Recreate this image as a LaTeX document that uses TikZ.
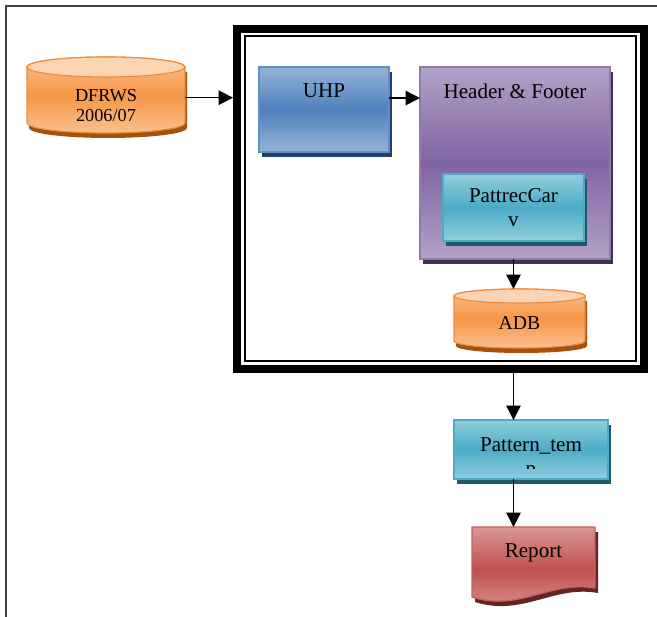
\documentclass[tikz,border=0pt]{standalone}
\usepackage{fontspec}
\setmainfont{Liberation Serif}
\usetikzlibrary{positioning,arrows.meta,shadows}

\definecolor{orgmid}{HTML}{F79646}
\definecolor{orglight}{HTML}{FAC08F}
\definecolor{orgtop}{HTML}{FBD4B4}
\definecolor{orgline}{HTML}{EF8A3A}
\definecolor{orgdark}{HTML}{A5520F}
\definecolor{bluemid}{HTML}{4F81BD}
\definecolor{bluelight}{HTML}{95B3D7}
\definecolor{blueline}{HTML}{5E8FCB}
\definecolor{bluedark}{HTML}{243F60}
\definecolor{purpmid}{HTML}{8064A2}
\definecolor{purplight}{HTML}{B2A2C7}
\definecolor{purpline}{HTML}{9279B4}
\definecolor{purpdark}{HTML}{3F3151}
\definecolor{aquamid}{HTML}{4BACC6}
\definecolor{aqualight}{HTML}{93CDDD}
\definecolor{aqualine}{HTML}{4BACC6}
\definecolor{aquadark}{HTML}{215868}
\definecolor{redmid}{HTML}{C0504D}
\definecolor{redlight}{HTML}{D99694}
\definecolor{redline}{HTML}{C9605D}
\definecolor{reddark}{HTML}{632523}

\begin{document}
\begin{tikzpicture}[
  font=\fontsize{15}{17.5}\selectfont, >={Triangle[length=3.6mm, width=3.6mm]},
  flow/.style={->, line width=1.1pt},
  box/.style={draw, line width=1pt, inner sep=0pt, outer sep=0pt, align=center},
  boxshadow/.style={drop shadow={fill=#1, opacity=1, shadow xshift=0.075cm, shadow yshift=-0.125cm}},
  uhpbox/.style={box, draw=blueline, top color=bluelight, bottom color=bluelight, middle color=bluemid, boxshadow=bluedark},
  hfbox/.style={box, draw=purpline, top color=purplight, bottom color=purplight, middle color=purpmid, boxshadow=purpdark},
  aquabox/.style={box, draw=aqualine, top color=aqualight, bottom color=aqualight, middle color=aquamid, boxshadow=aquadark},
  ttl/.style={inner sep=0pt, outer sep=0pt, align=center},
  cylbody/.style={draw=orgline, line width=0.8pt, top color=orglight, bottom color=orglight, middle color=orgmid},
  cyltop/.style={fill=orgtop, draw=orgline, line width=0.8pt},
]
  \useasboundingbox (0,0) rectangle (16.425,-15.425);

  % page edge
  \draw[line width=1pt, black!75] (0.15,-15.425) -- (0.15,-0.15) -- (16.425,-0.15);

  % double frame round the tool
  \node[draw, line width=0.2cm, inner sep=0pt, minimum width=10.175cm, minimum height=8.5cm] (frame) at (11.0125,-4.975) {};
  \draw[line width=1.2pt] ([shift={(0.3,-0.275)}]frame.north west) rectangle ([shift={(-0.3,0.3)}]frame.south east);

  % DFRWS image store
  \fill[orgdark, shift={(0.05,-0.125)}] (0.675,-1.675) -- (0.675,-3.075)
    arc[start angle=180, end angle=360, x radius=1.975, y radius=0.25] -- (4.625,-1.675) -- cycle;
  \draw[cylbody] (0.675,-1.675) -- (0.675,-3.075)
    arc[start angle=180, end angle=360, x radius=1.975, y radius=0.25] -- (4.625,-1.675)
    arc[start angle=0, end angle=180, x radius=1.975, y radius=0.25] -- cycle;
  \draw[cyltop] (2.65,-1.675) ellipse[x radius=1.975, y radius=0.25];
  \node[ttl, font=\fontsize{13}{14.2}\selectfont, minimum width=3.95cm] (dfrws) at (2.65,-2.65) {DFRWS\\2006/07};

  % carving stages
  \node[uhpbox, minimum width=3.25cm, minimum height=2.125cm] (uhp) at (8.1,-2.7375) {};
  \node[ttl, below=0.42cm of uhp.north] (uhpt) {UHP};
  \node[hfbox, minimum width=4.75cm, minimum height=4.8cm] (hf) at (12.875,-4.075) {};
  \node[ttl, below=0.42cm of hf.north] (hft) {Header \& Footer};
  \node[aquabox, minimum width=3.525cm, minimum height=1.675cm] (pcv) at (12.8375,-5.1875) {PattrecCar\\v};

  % ADB store
  \fill[orgdark, shift={(0.05,-0.125)}] (11.35,-7.4) -- (11.35,-8.525)
    arc[start angle=180, end angle=360, x radius=1.6375, y radius=0.175] -- (14.625,-7.4) -- cycle;
  \draw[cylbody] (11.35,-7.4) -- (11.35,-8.525)
    arc[start angle=180, end angle=360, x radius=1.6375, y radius=0.175] -- (14.625,-7.4)
    arc[start angle=0, end angle=180, x radius=1.6375, y radius=0.175] -- cycle;
  \draw[cyltop] (12.9875,-7.4) ellipse[x radius=1.6375, y radius=0.175];
  \node[ttl, font=\fontsize{14}{16}\selectfont] (adb) at (12.9875,-8.075) {ADB};
  \coordinate (adbtop) at (12.9875,-7.225);

  % pattern template
  \node[aquabox, minimum width=3.85cm, minimum height=1.475cm] (pat) at (13.275,-11.2375) {};
  \node[ttl, below=0.43cm of pat.north] (patt) {Pattern\_tem};
  \begin{scope}
    \clip (pat.north west) rectangle ([yshift=0.275cm]pat.south east);
    \node[ttl, anchor=base] (patp) at ([yshift=0.1cm]pat.south) {p};
  \end{scope}

  % report
  \fill[reddark, shift={(0.075,-0.125)}] (11.8,-13.175) -- (14.875,-13.175) -- (14.875,-14.7)
    .. controls (13.75,-14.5) and (13.0,-15.3) .. (11.8,-14.925) -- cycle;
  \draw[redline, line width=1pt, top color=redlight, bottom color=redlight, middle color=redmid]
    (11.8,-13.175) -- (14.875,-13.175) -- (14.875,-14.7)
    .. controls (13.75,-14.5) and (13.0,-15.3) .. (11.8,-14.925) -- cycle;
  \node[ttl, minimum width=3.075cm, minimum height=1.3cm] (rep) at (13.3375,-13.825) {Report};

  % flow
  \draw[flow] (dfrws.6) -- (dfrws.6 -| frame.west);
  \draw[flow] (uhp.10) -- (uhp.10 -| hf.west);
  \draw[flow] (hf.south -| pcv) -- (adbtop -| pcv);
  \draw[flow] (frame.south -| pcv) -- (pat.north -| pcv);
  \draw[flow] (pat.south -| pcv) -- (rep.north -| pcv);
\end{tikzpicture}
\end{document}
